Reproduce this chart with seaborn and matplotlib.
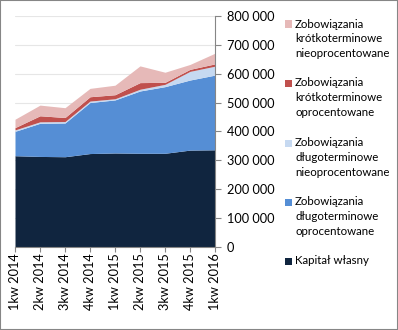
import numpy as np
import pandas as pd
import seaborn as sns
import matplotlib
matplotlib.use("Agg")
import matplotlib.pyplot as plt
from matplotlib.patches import Rectangle
from matplotlib.ticker import FuncFormatter, MultipleLocator

quarters = ["1kw 2014", "2kw 2014", "3kw 2014", "4kw 2014", "1kw 2015",
            "2kw 2015", "3kw 2015", "4kw 2015", "1kw 2016"]
kapital = [315500, 313000, 312000, 323000, 325000, 324000, 324000, 335000, 336000]
dl_oproc = [84500, 115000, 117000, 177000, 184000, 216000, 231000, 243000, 259000]
dl_nieoproc = [5000, 5000, 5000, 5000, 4000, 6000, 8000, 30000, 31000]
kr_oproc = [8000, 21000, 14000, 15000, 14000, 23000, 7000, 7000, 8000]
kr_nieoproc = [29000, 37000, 34000, 29000, 33000, 58000, 35000, 17000, 37000]

labels = ["Kapitał własny",
          "Zobowiązania\ndługoterminowe\noprocentowane",
          "Zobowiązania\ndługoterminowe\nnieoprocentowane",
          "Zobowiązania\nkrótkoterminowe\noprocentowane",
          "Zobowiązania\nkrótkoterminowe\nnieoprocentowane"]
colors = ["#10253F", "#558ED5", "#C6D9F1", "#C0504D", "#E6B9B8"]

df = pd.DataFrame({"kw": quarters, labels[0]: kapital, labels[1]: dl_oproc,
                   labels[2]: dl_nieoproc, labels[3]: kr_oproc, labels[4]: kr_nieoproc})

sns.set_style("white")
plt.rcParams["font.family"] = ["Lato", "DejaVu Sans"]
FS = 9.2
LFS = 8.3

fig = plt.figure(figsize=(3.98, 3.30), dpi=100)
ax = fig.add_axes([15/398, 1 - 246.7/330, 200/398, 230.7/330])

x = np.arange(len(quarters))
ax.stackplot(x, [df[l].values for l in labels], colors=colors, linewidth=0, zorder=2)

ax.set_xlim(0, len(quarters) - 1)
ax.set_ylim(0, 800000)
ax.yaxis.set_major_locator(MultipleLocator(100000))
ax.yaxis.tick_right()
ax.yaxis.set_major_formatter(FuncFormatter(lambda v, p: f"{int(v):,}".replace(",", " ")))
ax.set_xticks(x)
ax.set_xticklabels(quarters, rotation=90, ha="center", va="top")
ax.grid(axis="y", color="#E6E6E6", linewidth=0.8, zorder=0)
ax.set_axisbelow(True)

sns.despine(ax=ax, left=True, top=True, right=False, bottom=False)
for s in ["right", "bottom"]:
    ax.spines[s].set_color("#868686")
    ax.spines[s].set_linewidth(0.8)
    ax.spines[s].set_zorder(3)
ax.tick_params(axis="y", which="major", right=True, left=False, length=4,
               width=0.8, color="#868686", pad=4.5, labelsize=FS, labelcolor="#000000")
ax.tick_params(axis="x", which="major", bottom=True, length=3.5, width=0.8,
               color="#868686", pad=1, labelsize=FS, labelcolor="#000000")

# legend (top series first)
leg_y = [24, 83, 143, 202, 261]
order = [4, 3, 2, 1, 0]
for yy, i in zip(leg_y, order):
    fig.add_artist(Rectangle((285/398, 1 - (yy + 3.5)/330), 7/398, 7/330,
                             transform=fig.transFigure, color=colors[i], lw=0))
    for j, line in enumerate(labels[i].split("\n")):
        fig.text(295/398, 1 - (yy + j*14.7)/330, line, fontsize=LFS,
                 ha="left", va="center", color="#000000")

fig.add_artist(Rectangle((0, 0), 1, 1, transform=fig.transFigure, fill=False,
                         ec="#868686", lw=1.5))

fig.savefig("out.png", dpi=100)
